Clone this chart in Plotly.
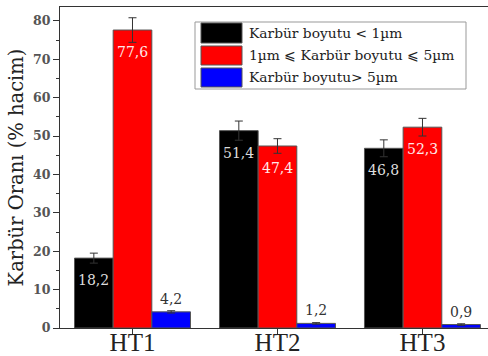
import plotly.graph_objects as go

# Heat-treatment groups and carbide volume fractions (% hacim)
categories = ["HT1", "HT2", "HT3"]
series_names = [
    "Karbür boyutu < 1µm",
    "1µm ⩽ Karbür boyutu ⩽ 5µm",
    "Karbür boyutu> 5µm",
]
small_vals = [18.2, 51.4, 46.8]
mid_vals = [77.6, 47.4, 52.3]
large_vals = [4.2, 1.2, 0.9]
small_err = [1.3, 2.5, 2.2]
mid_err = [3.2, 1.9, 2.3]
large_err = [0.3, 0.2, 0.2]

values = [small_vals, mid_vals, large_vals]
errors = [small_err, mid_err, large_err]
colors = ["#000000", "#ff0000", "#0000ff"]
label_colors = ["#dddddd", "#ffe8e8", "#333333"]

SERIF = "DejaVu Serif"
fig = go.Figure()

for name, vals, errs, col in zip(series_names, values, errors, colors):
    fig.add_trace(go.Bar(
        x=categories, y=vals, name=name,
        marker=dict(color=col, line=dict(color="#555555", width=1)),
        error_y=dict(type="data", array=errs, color="#333333", thickness=1, width=4),
        showlegend=False,
    ))

# value labels: inside the top of the tall bars, above the short ones
bar_w = 0.8 / 3
annotations = []
for s, (vals, lc) in enumerate(zip(values, label_colors)):
    for i, v in enumerate(vals):
        inside = s < 2
        annotations.append(dict(
            x=i + (s - 1) * bar_w, y=v, xref="x", yref="y",
            text=f"{v:.1f}".replace(".", ","), showarrow=False,
            yshift=-22 if inside else 13,
            font=dict(family=SERIF, size=14, color=lc),
        ))

# legend box drawn in paper coordinates
L, T = 60, 7
PW, PH = 428, 321
def px(x):
    return (x - L) / PW
def py(y):
    return (T + PH - y) / PH

shapes = [dict(type="rect", xref="paper", yref="paper",
               x0=px(195), x1=px(466), y0=py(89), y1=py(22),
               line=dict(color="#999999", width=1), fillcolor="white")]
rows = [(23, 43), (46, 65), (68, 87)]
for (y0, y1), col, name in zip(rows, colors, series_names):
    shapes.append(dict(type="rect", xref="paper", yref="paper",
                       x0=px(201), x1=px(242), y0=py(y1), y1=py(y0),
                       line=dict(color="#555555", width=1), fillcolor=col))
    annotations.append(dict(x=px(247), y=py((y0 + y1) / 2), xref="paper", yref="paper",
                            xanchor="left", yanchor="middle", showarrow=False,
                            text=name, font=dict(family=SERIF, size=13.8, color="#222222")))

fig.update_layout(
    width=488, height=356,
    margin=dict(l=L, r=0, t=T, b=356 - T - PH),
    paper_bgcolor="white", plot_bgcolor="white",
    barmode="group", bargap=0.2, bargroupgap=0,
    shapes=shapes, annotations=annotations,
    xaxis=dict(
        range=[-0.5, 2.452], showline=True, linecolor="#333333", linewidth=1,
        mirror=True, ticks="outside", ticklen=5, tickcolor="#333333",
        minor=dict(ticks="outside", ticklen=3, tickcolor="#333333", tick0=0.5, dtick=1),
        tickfont=dict(family="Liberation Serif", size=25, color="#222222"),
        ticklabelstandoff=-13,
        showgrid=False, zeroline=False, automargin=False,
    ),
    yaxis=dict(
        range=[0, 83.6], showline=True, linecolor="#333333", linewidth=1,
        ticks="outside", ticklen=6, tickcolor="#333333", dtick=10,
        minor=dict(ticks="outside", ticklen=3, tickcolor="#333333", dtick=5),
        tickfont=dict(family=SERIF, size=12.5, color="#555555", weight="bold"),
        showgrid=False, zeroline=False, automargin=False,
        title=dict(text="Karbür Oranı (% hacim)", standoff=4,
                   font=dict(family=SERIF, size=19.5, color="#222222")),
    ),
)

fig.write_html("out.html")
